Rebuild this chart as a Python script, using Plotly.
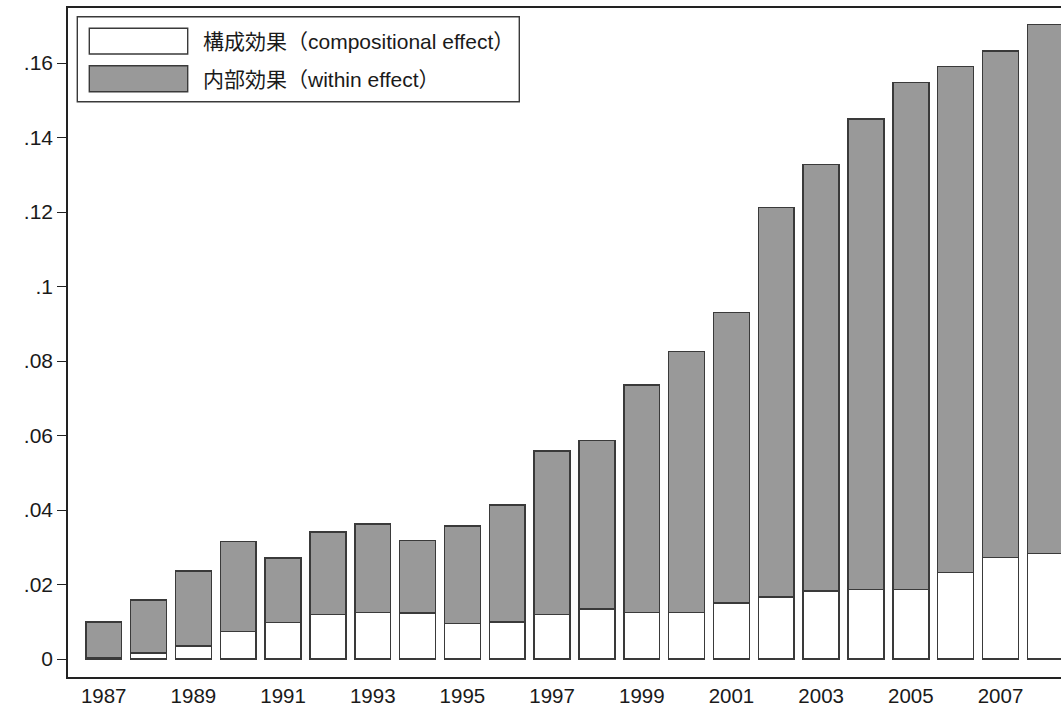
import plotly.graph_objects as go

years = list(range(1987, 2009))
compositional = [0.0003, 0.0016, 0.0035, 0.0074, 0.0098, 0.0119, 0.0125, 0.0123, 0.0096, 0.0100,
                 0.0120, 0.0134, 0.0125, 0.0125, 0.0150, 0.0166, 0.0182, 0.0186, 0.0187, 0.0232,
                 0.0273, 0.0283]
within = [0.0096, 0.0142, 0.0201, 0.0242, 0.0173, 0.0222, 0.0238, 0.0195, 0.0261, 0.0314,
          0.0438, 0.0453, 0.0611, 0.0700, 0.0780, 0.1046, 0.1145, 0.1264, 0.1361, 0.1358,
          0.1359, 0.1421]
x_ticks = [1987, 1989, 1991, 1993, 1995, 1997, 1999, 2001, 2003, 2005, 2007]
y_ticks = [0, 0.02, 0.04, 0.06, 0.08, 0.10, 0.12, 0.14, 0.16]
y_ticktext = ["0", ".02", ".04", ".06", ".08", ".1", ".12", ".14", ".16"]
legend_labels = ["構成効果（compositional effect）", "内部効果（within effect）"]

W, H = 1061, 708
L, R, T, B = 68, 0, 8, 31
FONT = "Liberation Sans, Arial, Noto Sans CJK JP, sans-serif"
TXT = "#1a1a1a"
EDGE = "#3a3a3a"
GRAY = "#999999"

fig = go.Figure()
fig.add_trace(go.Bar(x=years, y=compositional, name=legend_labels[0], width=0.8,
                     marker=dict(color="white", line=dict(color=EDGE, width=1.5))))
fig.add_trace(go.Bar(x=years, y=within, name=legend_labels[1], width=0.8,
                     marker=dict(color=GRAY, line=dict(color=EDGE, width=1.5))))

pw, ph = W - L - R, H - T - B
def px(x):
    return (x - L) / pw
def py(y):
    return (H - B - y) / ph

shapes = [
    dict(type="rect", xref="paper", yref="paper", x0=px(77.3), x1=px(519.3), y0=py(101.7), y1=py(16.7),
         line=dict(color=EDGE, width=1.4), fillcolor="white", layer="above"),
    dict(type="rect", xref="paper", yref="paper", x0=px(89.3), x1=px(187.7), y0=py(54), y1=py(28.3),
         line=dict(color=EDGE, width=1.4), fillcolor="white", layer="above"),
    dict(type="rect", xref="paper", yref="paper", x0=px(89.3), x1=px(187.7), y0=py(91.7), y1=py(65.7),
         line=dict(color=EDGE, width=1.4), fillcolor=GRAY, layer="above"),
]
annotations = [
    dict(xref="paper", yref="paper", x=px(201), y=py(41.5), text=legend_labels[0], showarrow=False,
         xanchor="left", yanchor="middle", font=dict(family=FONT, size=21, color=TXT)),
    dict(xref="paper", yref="paper", x=px(201), y=py(79), text=legend_labels[1], showarrow=False,
         xanchor="left", yanchor="middle", font=dict(family=FONT, size=21, color=TXT)),
]

fig.update_layout(
    width=W, height=H, barmode="stack", showlegend=False,
    margin=dict(l=L, r=R, t=T, b=B, pad=0),
    paper_bgcolor="white", plot_bgcolor="white",
    font=dict(family=FONT, size=20, color=TXT),
    shapes=shapes, annotations=annotations,
    xaxis=dict(range=[1986.204, 2008.349], tickmode="array", tickvals=x_ticks,
               ticktext=[str(v) for v in x_ticks], showgrid=False, zeroline=False,
               showline=True, mirror=True, linecolor="#222222", linewidth=1.6,
               ticks="", tickfont=dict(size=20.5, color=TXT)),
    yaxis=dict(range=[-0.00483, 0.17477], tickmode="array", tickvals=y_ticks, ticktext=y_ticktext,
               showgrid=False, zeroline=False, showline=True, linecolor="#222222", linewidth=1.6,
               ticks="outside", ticklen=9, tickwidth=1.4, tickcolor="#222222",
               tickfont=dict(size=21, color=TXT)),
)

fig.write_html("out.html")
